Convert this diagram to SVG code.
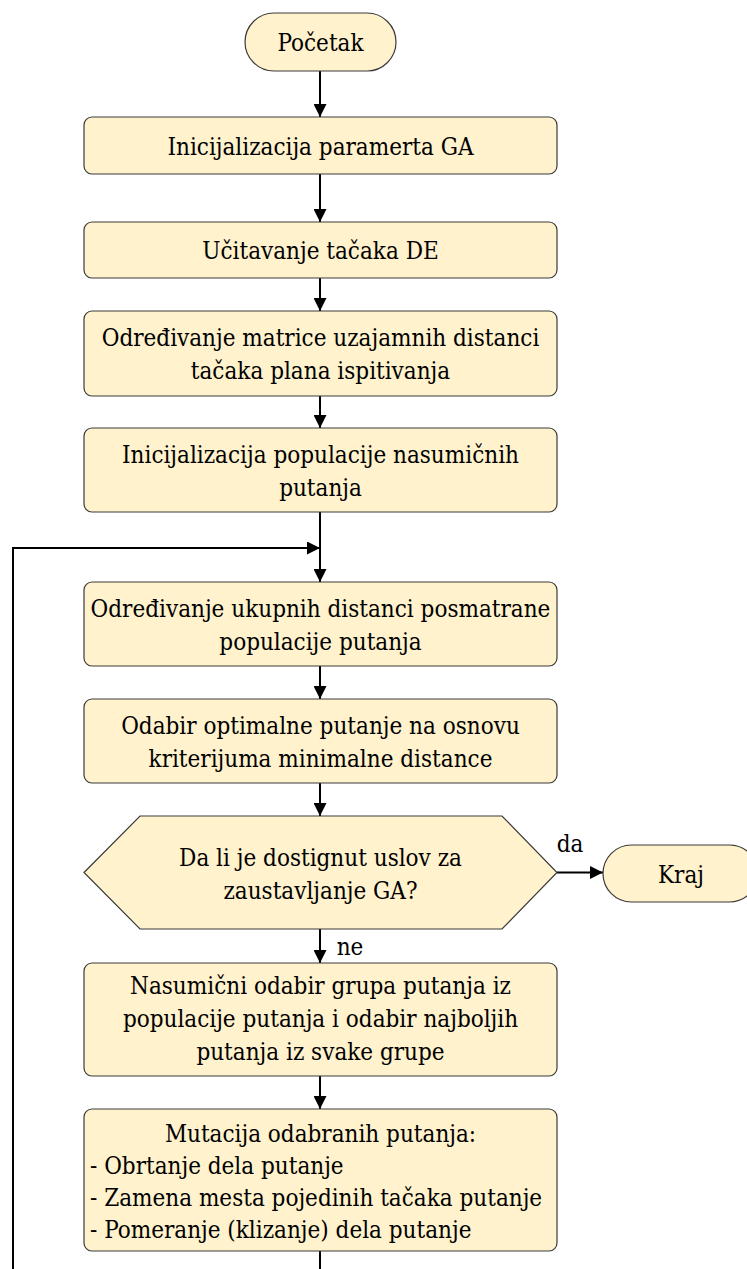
<svg xmlns="http://www.w3.org/2000/svg" width="747" height="1269" viewBox="0 0 747 1269">
<style>
.n{fill:#FFF2CC;stroke:#3a3a3a;stroke-width:1.2}
.t,.l{font-family:"DejaVu Serif Condensed","DejaVu Serif",serif;font-stretch:condensed;font-size:24px;fill:#000}
.t{text-anchor:middle}
.l{text-anchor:start}
.c{fill:none;stroke:#000;stroke-width:2}
</style>
<defs>
<marker id="ah" viewBox="0 0 12 12" refX="12" refY="6" markerWidth="13" markerHeight="13" markerUnits="userSpaceOnUse" orient="auto">
<path d="M0,0 L12,6 L0,12 z" fill="#000"/>
</marker>
</defs>
<rect width="747" height="1269" fill="#fff"/>
<g id="connectors">
<line class="c" x1="320" y1="71" x2="320" y2="117" marker-end="url(#ah)"/>
<line class="c" x1="320" y1="174" x2="320" y2="222" marker-end="url(#ah)"/>
<line class="c" x1="320" y1="278" x2="320" y2="311" marker-end="url(#ah)"/>
<line class="c" x1="320" y1="396" x2="320" y2="428" marker-end="url(#ah)"/>
<line class="c" x1="320" y1="512" x2="320" y2="582" marker-end="url(#ah)"/>
<line class="c" x1="320" y1="666" x2="320" y2="699" marker-end="url(#ah)"/>
<line class="c" x1="320" y1="783" x2="320" y2="816" marker-end="url(#ah)"/>
<line class="c" x1="557" y1="872.5" x2="603" y2="872.5" marker-end="url(#ah)"/>
<line class="c" x1="320" y1="929" x2="320" y2="963" marker-end="url(#ah)"/>
<line class="c" x1="320" y1="1076" x2="320" y2="1109" marker-end="url(#ah)"/>
<polyline class="c" points="320,1251 320,1269"/>
<polyline class="c" points="13,1269 13,548 320,548" marker-end="url(#ah)"/>
<text class="t" x="570" y="852">da</text>
<text class="t" x="350" y="955">ne</text>
</g>
<g id="start">
<rect class="n" x="245" y="13" width="151" height="58" rx="29"/>
<text class="t" x="320.5" y="51">Početak</text>
</g>
<g id="init-ga">
<rect class="n" x="84" y="117" width="473" height="57" rx="8"/>
<text class="t" x="320.5" y="155">Inicijalizacija paramerta GA</text>
</g>
<g id="load-de">
<rect class="n" x="84" y="222" width="473" height="56" rx="8"/>
<text class="t" x="320.5" y="259">Učitavanje tačaka DE</text>
</g>
<g id="matrix">
<rect class="n" x="84" y="311" width="473" height="85" rx="8"/>
<text class="t" x="320.5" y="346">Određivanje matrice uzajamnih distanci</text>
<text class="t" x="320.5" y="379">tačaka plana ispitivanja</text>
</g>
<g id="init-pop">
<rect class="n" x="84" y="428" width="473" height="84" rx="8"/>
<text class="t" x="320.5" y="463">Inicijalizacija populacije nasumičnih</text>
<text class="t" x="320.5" y="496">putanja</text>
</g>
<g id="distances">
<rect class="n" x="84" y="582" width="473" height="84" rx="8"/>
<text class="t" x="320.5" y="617">Određivanje ukupnih distanci posmatrane</text>
<text class="t" x="320.5" y="650">populacije putanja</text>
</g>
<g id="select-opt">
<rect class="n" x="84" y="699" width="473" height="84" rx="8"/>
<text class="t" x="320.5" y="734">Odabir optimalne putanje na osnovu</text>
<text class="t" x="320.5" y="767">kriterijuma minimalne distance</text>
</g>
<g id="decision">
<polygon class="n" points="84,872.5 140,816 502,816 557,872.5 502,929 140,929"/>
<text class="t" x="320.5" y="866">Da li je dostignut uslov za</text>
<text class="t" x="320.5" y="899">zaustavljanje GA?</text>
</g>
<g id="end">
<rect class="n" x="603" y="845" width="155" height="57" rx="28.5"/>
<text class="t" x="681" y="883">Kraj</text>
</g>
<g id="tournament">
<rect class="n" x="84" y="963" width="473" height="113" rx="8"/>
<text class="t" x="320.5" y="994">Nasumični odabir grupa putanja iz</text>
<text class="t" x="320.5" y="1027">populacije putanja i odabir najboljih</text>
<text class="t" x="320.5" y="1060">putanja iz svake grupe</text>
</g>
<g id="mutation">
<rect class="n" x="84" y="1109" width="473" height="142" rx="8"/>
<text class="t" x="320.5" y="1142">Mutacija odabranih putanja:</text>
<text class="l" x="90" y="1174">- Obrtanje dela putanje</text>
<text class="l" x="90" y="1206">- Zamena mesta pojedinih tačaka putanje</text>
<text class="l" x="90" y="1238">- Pomeranje (klizanje) dela putanje</text>
</g>
</svg>
